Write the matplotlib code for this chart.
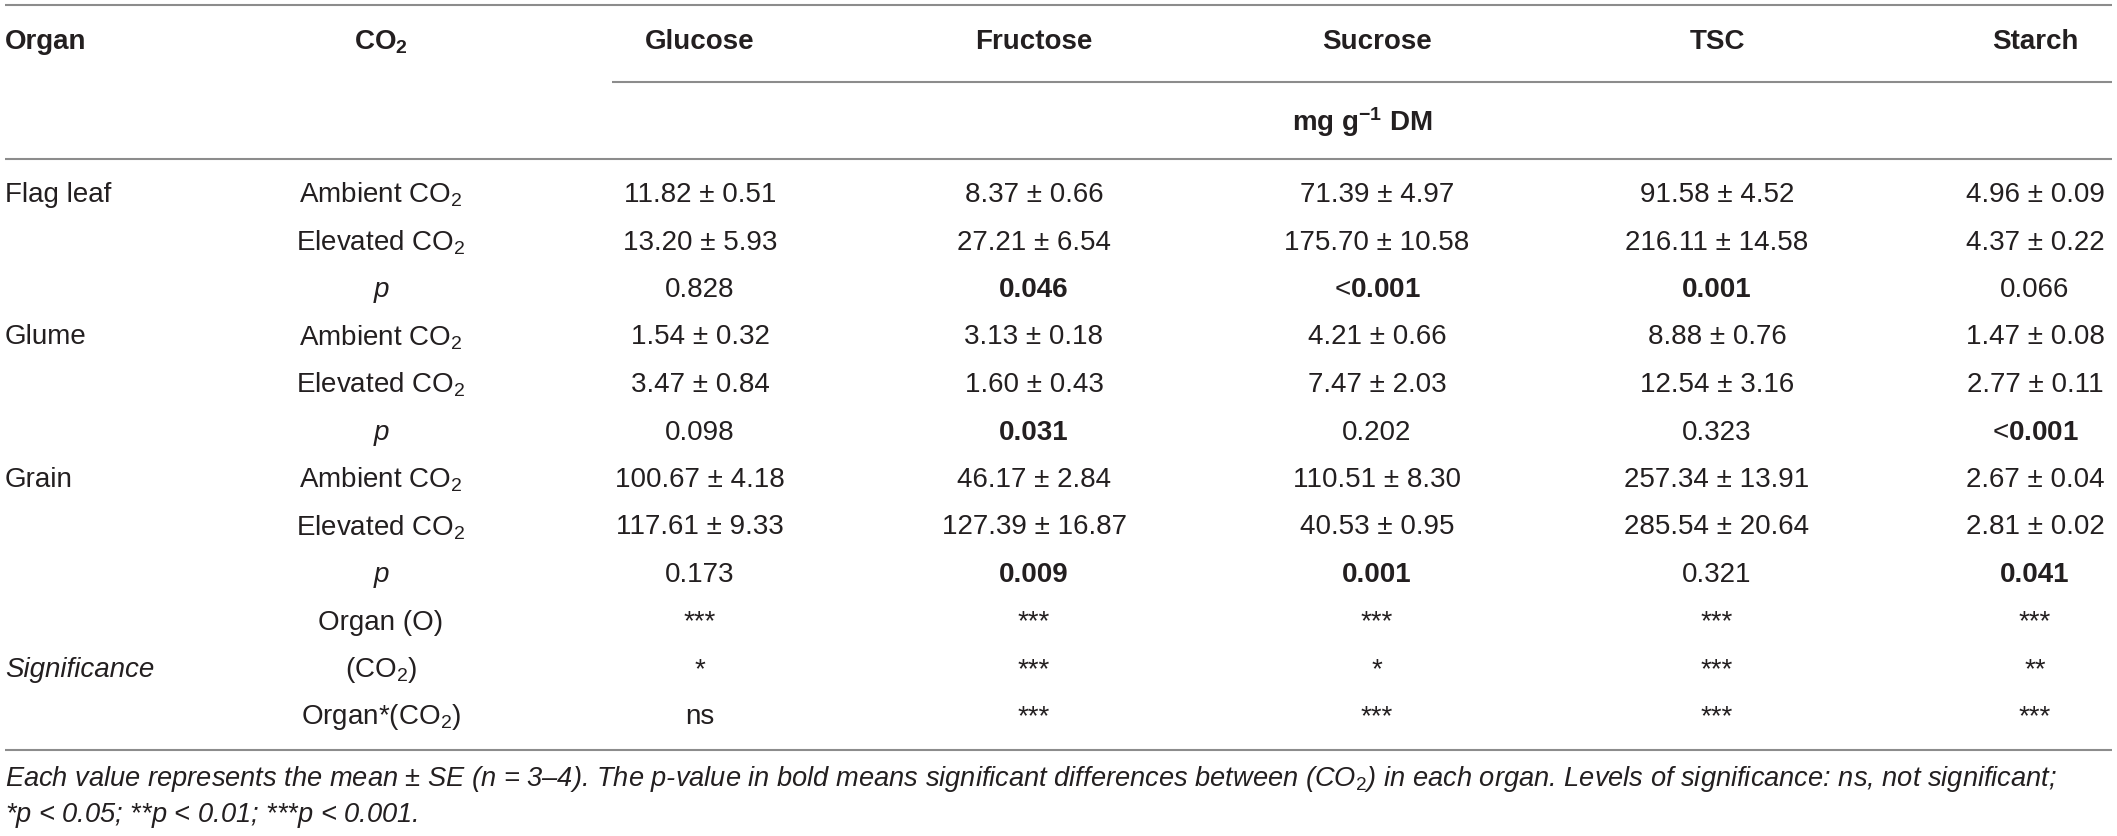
import matplotlib.pyplot as plt

plt.rcParams['font.family'] = ['Liberation Sans', 'DejaVu Sans']
plt.rcParams['mathtext.fontset'] = 'custom'
plt.rcParams['mathtext.rm'] = 'Liberation Sans'
plt.rcParams['mathtext.it'] = 'Liberation Sans:italic'
plt.rcParams['mathtext.bf'] = 'Liberation Sans:bold'

# -------------------------------
# table data
# -------------------------------
sugars = ["Glucose", "Fructose", "Sucrose", "TSC", "Starch"]
organs = ["Flag leaf", "Glume", "Grain"]
unit_label = r"mg g$^{\mathbf{-1}}$ DM"

flag_amb_mean = [11.82, 8.37, 71.39, 91.58, 4.96]
flag_amb_se = [0.51, 0.66, 4.97, 4.52, 0.09]
flag_elev_mean = [13.20, 27.21, 175.70, 216.11, 4.37]
flag_elev_se = [5.93, 6.54, 10.58, 14.58, 0.22]
flag_p = ["0.828", "0.046", "<0.001", "0.001", "0.066"]

glume_amb_mean = [1.54, 3.13, 4.21, 8.88, 1.47]
glume_amb_se = [0.32, 0.18, 0.66, 0.76, 0.08]
glume_elev_mean = [3.47, 1.60, 7.47, 12.54, 2.77]
glume_elev_se = [0.84, 0.43, 2.03, 3.16, 0.11]
glume_p = ["0.098", "0.031", "0.202", "0.323", "<0.001"]

grain_amb_mean = [100.67, 46.17, 110.51, 257.34, 2.67]
grain_amb_se = [4.18, 2.84, 8.30, 13.91, 0.04]
grain_elev_mean = [117.61, 127.39, 40.53, 285.54, 2.81]
grain_elev_se = [9.33, 16.87, 0.95, 20.64, 0.02]
grain_p = ["0.173", "0.009", "0.001", "0.321", "0.041"]

sig_labels = ["Organ (O)", r"(CO$_2$)", r"Organ*(CO$_2$)"]
sig_organ = ["***", "***", "***", "***", "***"]
sig_co2 = ["*", "***", "*", "***", "**"]
sig_inter = ["ns", "***", "***", "***", "***"]

footnote_1 = (r"Each value represents the mean $\pm$ SE ($n$ = 3–4). The $p$-value in bold "
              r"means significant differences between (CO$_2$) in each organ. "
              r"Levels of significance: ns, not significant;")
footnote_2 = r"*$p$ < 0.05; **$p$ < 0.01; ***$p$ < 0.001."

# -------------------------------
# layout (pixel coordinates)
# -------------------------------
W, H = 2117, 836
x_organ = 5
x_co2 = 381
x_cols = [700, 1034, 1377, 1717, 2035]
y_head = 42
y_unit = 122
row0, row_h = 195, 47.5
line_col = "#8c8c8c"
txt_col = "#231f20"
fs = 20

fig = plt.figure(figsize=(W / 100, H / 100), dpi=100)
ax = fig.add_axes([0, 0, 1, 1])
ax.set_xlim(0, W)
ax.set_ylim(H, 0)
ax.axis("off")


def txt(x, y, s, ha="center", **kw):
    kw.setdefault("fontsize", fs)
    kw.setdefault("color", txt_col)
    ax.text(x, y, s, ha=ha, va="center", **kw)


def hline(y, x0=5, x1=2112):
    ax.plot([x0, x1], [y, y], color=line_col, lw=1.5, solid_capstyle="butt")


# rules
hline(5)
hline(82, x0=612)
hline(159)
hline(750)

# header
txt(x_organ, y_head, "Organ", ha="left", fontweight="bold")
txt(x_co2, y_head, r"CO$_\mathbf{2}$", fontweight="bold")
for x, s in zip(x_cols, sugars):
    txt(x, y_head, s, fontweight="bold")
txt((612 + 2112) / 2, y_unit, unit_label, fontweight="bold")

# body
blocks = [
    (flag_amb_mean, flag_amb_se, flag_elev_mean, flag_elev_se, flag_p),
    (glume_amb_mean, glume_amb_se, glume_elev_mean, glume_elev_se, glume_p),
    (grain_amb_mean, grain_amb_se, grain_elev_mean, grain_elev_se, grain_p),
]
row = 0
for organ, (am, ase, em, ese, pv) in zip(organs, blocks):
    y = row0 + row * row_h
    txt(x_organ, y, organ, ha="left")
    txt(x_co2, y, r"Ambient CO$_2$")
    txt(x_co2, y + row_h, r"Elevated CO$_2$")
    txt(x_co2, y + 2 * row_h, "p", fontstyle="italic")
    for j, x in enumerate(x_cols):
        txt(x, y, f"{am[j]:.2f} ± {ase[j]:.2f}")
        txt(x, y + row_h, f"{em[j]:.2f} ± {ese[j]:.2f}")
        p = pv[j]
        val = float(p.lstrip("<"))
        if val < 0.05:
            if p.startswith("<"):
                txt(x, y + 2 * row_h, "<" + r"$\mathbf{" + p[1:] + "}$")
            else:
                txt(x, y + 2 * row_h, p, fontweight="bold")
        else:
            txt(x, y + 2 * row_h, p)
    row += 3

for k, (lab, vals) in enumerate(zip(sig_labels, [sig_organ, sig_co2, sig_inter])):
    y = row0 + (row + k) * row_h
    txt(x_co2, y, lab)
    for x, s in zip(x_cols, vals):
        txt(x, y, s)
txt(x_organ, row0 + (row + 1) * row_h, "Significance", ha="left", fontstyle="italic")

# footnote
txt(x_organ, 779, footnote_1, ha="left", fontstyle="italic", fontsize=19.6)
txt(x_organ, 815, footnote_2, ha="left", fontstyle="italic", fontsize=19.6)

plt.savefig("out.png", dpi=100)
